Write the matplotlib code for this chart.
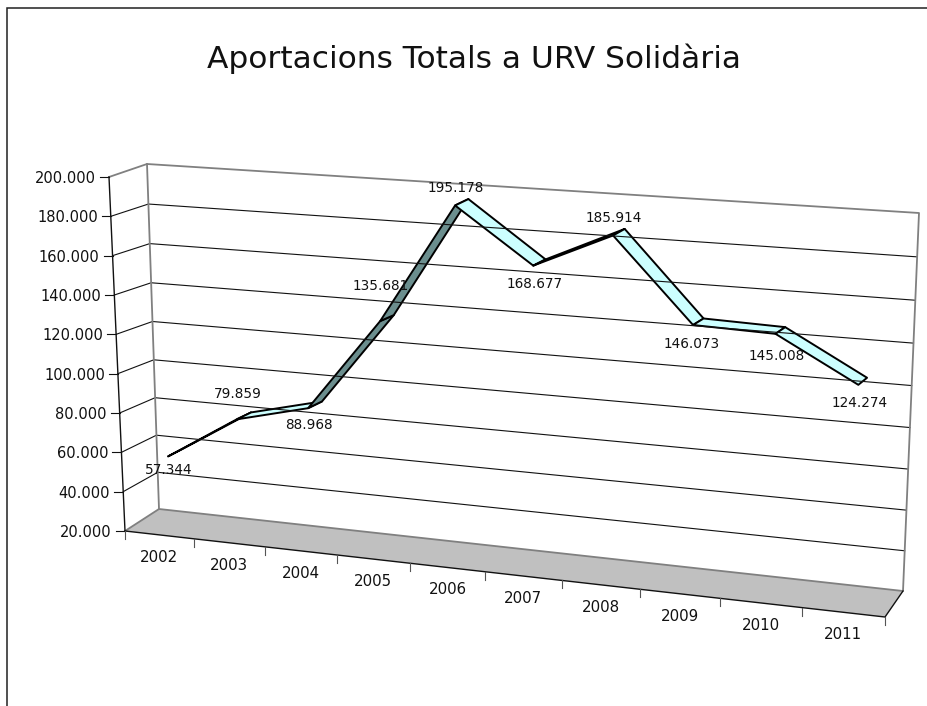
import numpy as np
import matplotlib
matplotlib.use("Agg")
import matplotlib.pyplot as plt
from matplotlib.patches import Polygon, Rectangle

# data
years = ["2002", "2003", "2004", "2005", "2006", "2007", "2008", "2009", "2010", "2011"]
values = [57344, 79859, 88968, 135681, 195178, 168677, 185914, 146073, 145008, 124274]
axis_ticks = [20000, 40000, 60000, 80000, 100000, 120000, 140000, 160000, 180000, 200000]

# box corners in pixels (x along categories, v along values)
back = {"b0": (159, 509), "b1": (903, 591), "t0": (147, 164), "t1": (919, 213)}
front = {"b0": (125, 531), "b1": (885, 617), "t0": (109, 177), "t1": (899, 230)}
PERSP = 1.11
PERSP_V = 1.05
depth_front = 0.28
depth_back = 0.72
cat_shift = 0.53  # ribbon sits a bit right of the category centre

# label offsets from the front corner of the ribbon
label_dx = [1, 1, 1, 1, 1, 1, 1, -1, 1, 1]
label_dy = [12, -27, 15, -37, -19, 17, -19, 17, 21, 17]


def proj(t, val, d):
    # d = 0 front, d = 1 back wall
    t = t / (PERSP - (PERSP - 1) * t)
    v = (val - axis_ticks[0]) / (axis_ticks[-1] - axis_ticks[0])
    res = []
    for c, k in ((front, 1.0), (back, PERSP_V)):
        w = v / (k - (k - 1) * v)
        p0 = (1 - t) * np.array(c["b0"]) + t * np.array(c["b1"])
        p1 = (1 - t) * np.array(c["t0"]) + t * np.array(c["t1"])
        res.append((1 - w) * p0 + w * p1)
    return (1 - d) * res[0] + d * res[1]


def fmt(v):
    return f"{v:,}".replace(",", ".")


fig = plt.figure(figsize=(9.28, 7.06), dpi=100)
ax = fig.add_axes([0, 0, 1, 1])
ax.set_xlim(0, 928)
ax.set_ylim(706, 0)
ax.axis("off")

# chart area border, runs off the picture
ax.add_patch(Rectangle((7, 7.5), 1000, 800, fc="white", ec="#202020", lw=1.1))

# floor
lo, hi = axis_ticks[0], axis_ticks[-1]
floor = [proj(0, lo, 0), proj(1, lo, 0), proj(1, lo, 1), proj(0, lo, 1)]
ax.add_patch(Polygon(floor, fc="#C0C0C0", ec="none"))

# grid lines on both walls
for v in axis_ticks[1:-1]:
    a, b, c = proj(0, v, 0), proj(0, v, 1), proj(1, v, 1)
    ax.plot([a[0], b[0], c[0]], [a[1], b[1], c[1]], color="#111111", lw=0.8)

# wall edges
edge = [proj(0, lo, 0), proj(0, lo, 1), proj(1, lo, 1), proj(1, hi, 1), proj(0, hi, 1), proj(0, hi, 0)]
ax.plot(*zip(*edge), color="#808080", lw=1.3)
p, q = proj(0, lo, 1), proj(0, hi, 1)
ax.plot([p[0], q[0]], [p[1], q[1]], color="#808080", lw=1.3)

# front axes
p, q = proj(0, lo, 0), proj(0, hi, 0)
ax.plot([p[0], q[0]], [p[1], q[1]], color="#111111", lw=1.0)
fr = [proj(0, lo, 0), proj(1, lo, 0), proj(1, lo, 1)]
ax.plot(*zip(*fr), color="#111111", lw=1.0)

for v in axis_ticks:
    p = proj(0, v, 0)
    ax.plot([p[0] - 9, p[0]], [p[1], p[1]], color="#111111", lw=0.8)
    ax.text(p[0] - 13, p[1], fmt(v), ha="right", va="center_baseline", fontsize=10.5, color="#111111")

n = len(years)
for i in range(n + 1):
    p = proj(i / n, lo, 0)
    ax.plot([p[0], p[0]], [p[1], p[1] + 8], color="#555555", lw=0.8)
for i, y in enumerate(years):
    p = proj((i + 0.5) / n, lo, 0)
    ax.text(p[0], p[1] + 21, y, ha="center", va="center_baseline", fontsize=10.8, color="#111111")

# ribbon
for i in range(n - 1):
    t1, t2 = (i + cat_shift) / n, (i + 1 + cat_shift) / n
    quad = [proj(t1, values[i], depth_front), proj(t2, values[i + 1], depth_front),
            proj(t2, values[i + 1], depth_back), proj(t1, values[i], depth_back)]
    xs, ys = np.array(quad).T
    area = 0.5 * np.sum(xs * np.roll(ys, -1) - np.roll(xs, -1) * ys)
    # sign of the area tells if the top or the underside is seen
    col = "#CCFFFF" if area < 0 else "#6B8E8E"
    ax.add_patch(Polygon(quad, fc=col, ec="black", lw=1.4, joinstyle="round"))

for i, v in enumerate(values):
    p = proj((i + cat_shift) / n, v, depth_front)
    ax.text(p[0] + label_dx[i], p[1] + label_dy[i], fmt(v), ha="center", va="center_baseline",
            fontsize=9.8, color="#111111")

ax.text(474, 68, "Aportacions Totals a URV Solidària", ha="center", va="baseline",
        fontsize=22.5, color="#111111")

fig.savefig("out.png", dpi=100)
